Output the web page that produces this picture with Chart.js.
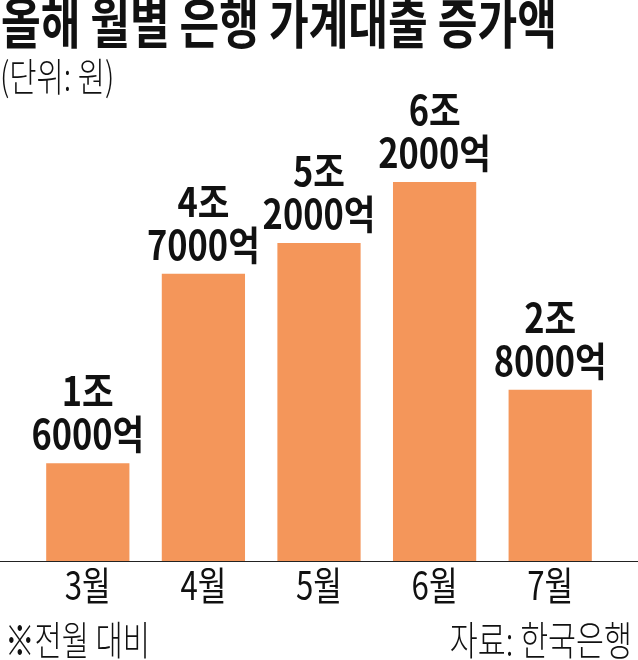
<!DOCTYPE html>
<html>
<head>
<meta charset="utf-8">
<script src="https://cdn.jsdelivr.net/npm/chart.js@4"></script>
<style>
  html, body { margin: 0; padding: 0; background: #fff; }
  #wrap { width: 638px; height: 660px; position: relative; }
</style>
</head>
<body>
<div id="wrap"><canvas id="loanChart" width="638" height="660"></canvas></div>
<script>
// monthly increase of household loans (unit: 조 won)
const months = ["3월", "4월", "5월", "6월", "7월"];
const increases = [1.6, 4.7, 5.2, 6.2, 2.8];
const jo = ["1조", "4조", "5조", "6조", "2조"];
const eok = ["6000억", "7000억", "2000억", "2000억", "8000억"];

const KR = '"Noto Sans CJK KR", "Noto Sans", sans-serif';
const barColor = "#F4965A";

// draw text squeezed horizontally, like the condensed print font
function squeezed(ctx, text, x, y, font, sx, align) {
  ctx.save();
  ctx.font = font;
  ctx.textAlign = align || "left";
  ctx.translate(x, y);
  ctx.scale(sx, 1);
  ctx.fillText(text, 0, 0);
  ctx.restore();
}

const decorations = {
  id: "decorations",
  afterDraw(chart) {
    const ctx = chart.ctx;
    const x = chart.scales.x;
    const y = chart.scales.y;
    const base = Math.round(y.getPixelForValue(0)) + 0.5;

    ctx.save();
    ctx.fillStyle = "#111";
    ctx.textBaseline = "alphabetic";

    // title and unit
    squeezed(ctx, "올해 월별 은행 가계대출 증가액", 1, 44, "bold 54px " + KR, 0.8);
    squeezed(ctx, "(단위: 원)", 0, 91, "300 39px " + KR, 0.76);

    // baseline across the whole width
    ctx.strokeStyle = "#222";
    ctx.lineWidth = 1;
    ctx.beginPath();
    ctx.moveTo(0, base);
    ctx.lineTo(chart.width, base);
    ctx.stroke();

    // value labels above each bar
    const meta = chart.getDatasetMeta(0);
    meta.data.forEach((bar, i) => {
      squeezed(ctx, eok[i], bar.x, bar.y - 14, "bold 40px " + KR, 0.86, "center");
      squeezed(ctx, jo[i], bar.x, bar.y - 57, "bold 40px " + KR, 0.86, "center");
    });

    // category labels
    months.forEach((m, i) => {
      squeezed(ctx, m, x.getPixelForValue(i), 600, "39px " + KR, 0.8, "center");
    });

    // footer
    squeezed(ctx, "※전월 대비", 5, 655, "300 40px " + KR, 0.74);
    squeezed(ctx, "자료: 한국은행", 632, 655, "300 40px " + KR, 0.76, "right");
    ctx.restore();
  }
};

new Chart(document.getElementById("loanChart"), {
  type: "bar",
  data: {
    labels: months,
    datasets: [{
      data: increases,
      backgroundColor: barColor,
      borderWidth: 0,
      categoryPercentage: 1,
      barPercentage: 0.72
    }]
  },
  options: {
    responsive: false,
    animation: false,
    devicePixelRatio: 1,
    layout: { padding: { left: 30, right: 30, top: 133, bottom: 99 } },
    plugins: { legend: { display: false }, tooltip: { enabled: false } },
    scales: {
      x: { display: false },
      y: { display: false, min: 0, max: 7 }
    }
  },
  plugins: [decorations]
});
</script>
</body>
</html>
